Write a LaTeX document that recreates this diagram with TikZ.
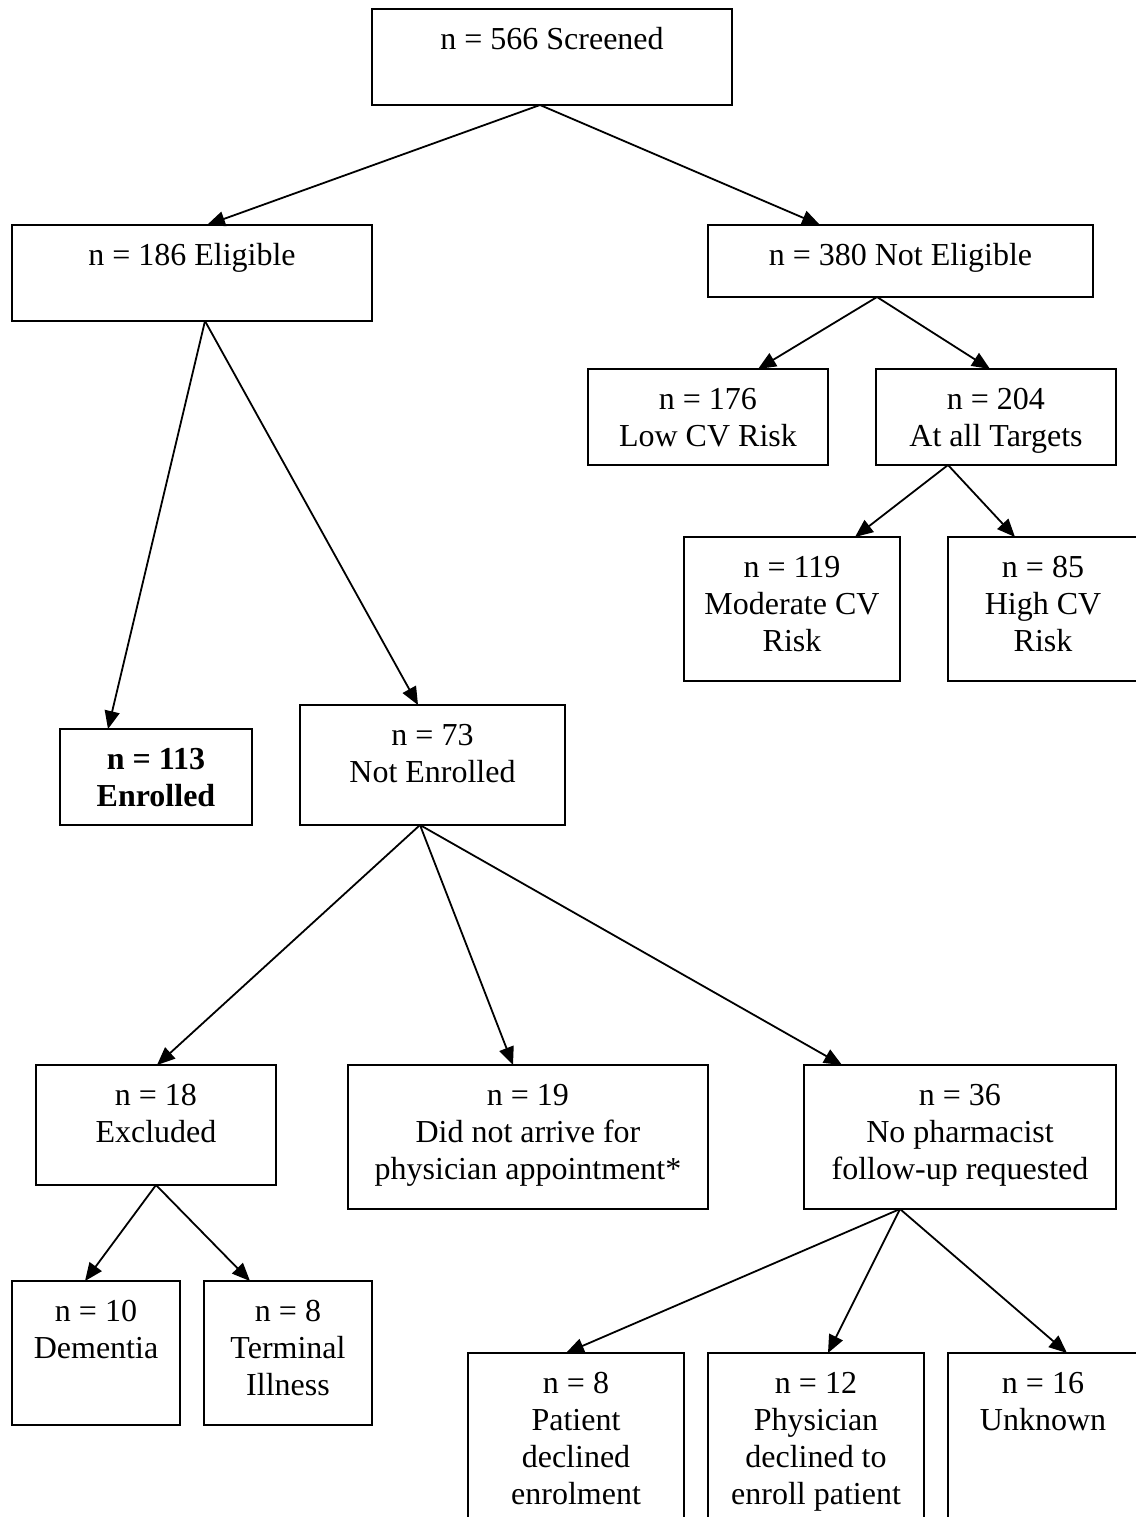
\documentclass[tikz,border=0pt]{standalone}
\usepackage{fontspec}
\setmainfont{Liberation Serif}
\usetikzlibrary{calc,arrows.meta}
\newcommand{\tb}[3]{\begin{minipage}[c][#2][t]{#1}\centering\rule{0pt}{20pt}#3\end{minipage}}
\tikzset{
  bx/.style={draw, line width=1pt, inner sep=0pt, outer sep=0pt, font=\fontsize{16}{18.6}\selectfont},
  arr/.style={line width=0.9pt, -{Triangle[length=9pt,width=7.5pt]}}
}
\begin{document}
\begin{tikzpicture}[x=0.5pt,y=-0.5pt]
\useasboundingbox (0,0) rectangle (1136,1517);
\clip (0,0) rectangle (1136,1517);
% boxes
\node[bx] (scr) at (552,57) {\tb{180pt}{48pt}{n = 566 Screened}};
\node[bx] (eli) at (192,273) {\tb{180pt}{48pt}{n = 186 Eligible}};
\node[bx] (nel) at (900.5,261) {\tb{192.5pt}{36pt}{n = 380 Not Eligible}};
\node[bx] (low) at (708,417) {\tb{120pt}{48pt}{n = 176\\Low CV Risk}};
\node[bx] (atg) at (996,417) {\tb{120pt}{48pt}{n = 204\\At all Targets}};
\node[bx] (mod) at (792,609) {\tb{108pt}{72pt}{n = 119\\Moderate CV\\Risk}};
\node[bx] (hig) at (1043,609) {\tb{95pt}{72pt}{n = 85\\High CV\\Risk}};
\node[bx] (enr) at (156,777) {\tb{96pt}{48pt}{\bfseries n = 113\\Enrolled}};
\node[bx] (nen) at (432.5,765) {\tb{132.5pt}{60pt}{n = 73\\Not Enrolled}};
\node[bx] (exc) at (156,1125) {\tb{120pt}{60pt}{n = 18\\Excluded}};
\node[bx] (dna) at (528,1137) {\tb{180pt}{72pt}{n = 19\\Did not arrive for\\physician appointment*}};
\node[bx] (nph) at (960,1137) {\tb{156pt}{72pt}{n = 36\\No pharmacist\\follow-up requested}};
\node[bx] (dem) at (96,1353) {\tb{84pt}{72pt}{n = 10\\Dementia}};
\node[bx] (ter) at (288,1353) {\tb{84pt}{72pt}{n = 8\\Terminal\\Illness}};
\node[bx] (pat) at (576,1453) {\tb{108pt}{100pt}{n = 8\\Patient\\declined\\enrolment}};
\node[bx] (phy) at (816,1453) {\tb{108pt}{100pt}{n = 12\\Physician\\declined to\\enroll patient}};
\node[bx] (unk) at (1043,1453) {\tb{95pt}{100pt}{n = 16\\Unknown}};
% connectors
\draw[arr] ($(scr.south west)+(168,0)$) -- ($(eli.north west)+(195,0)$);
\draw[arr] ($(scr.south west)+(168,0)$) -- ($(nel.north west)+(112,0)$);
\draw[arr] ($(eli.south west)+(193,0)$) -- ($(enr.north west)+(48,0)$);
\draw[arr] ($(eli.south west)+(193,0)$) -- ($(nen.north west)+(118,0)$);
\draw[arr] ($(nel.south west)+(169,0)$) -- ($(low.north west)+(170,0)$);
\draw[arr] ($(nel.south west)+(169,0)$) -- ($(atg.north west)+(114,0)$);
\draw[arr] ($(atg.south west)+(72,0)$) -- ($(mod.north west)+(171,0)$);
\draw[arr] ($(atg.south west)+(72,0)$) -- ($(hig.north west)+(67,0)$);
\draw[arr] ($(nen.south west)+(120,0)$) -- ($(exc.north west)+(121,0)$);
\draw[arr] ($(nen.south west)+(120,0)$) -- ($(dna.north west)+(165,0)$);
\draw[arr] ($(nen.south west)+(120,0)$) -- ($(nph.north west)+(38,0)$);
\draw[arr] ($(exc.south west)+(120,0)$) -- ($(dem.north west)+(73,0)$);
\draw[arr] ($(exc.south west)+(120,0)$) -- ($(ter.north west)+(46,0)$);
\draw[arr] ($(nph.south west)+(96,0)$) -- ($(pat.north west)+(98,0)$);
\draw[arr] ($(nph.south west)+(96,0)$) -- ($(phy.north west)+(120,0)$);
\draw[arr] ($(nph.south west)+(96,0)$) -- ($(unk.north west)+(119,0)$);
\end{tikzpicture}
\end{document}
